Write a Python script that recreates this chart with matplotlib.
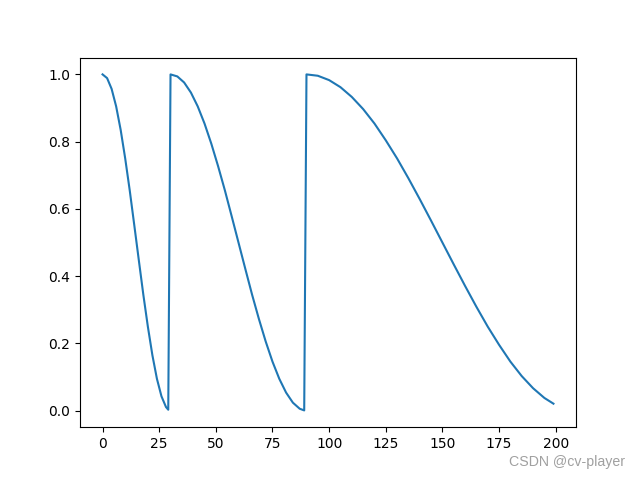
import matplotlib
matplotlib.use("Agg")
import matplotlib.pyplot as plt

# learning-rate factor (three restarts: 0, 30, 90)
epochs_1 = [0, 2, 4, 6, 8, 10, 12, 14, 16, 18, 20, 22, 24, 26, 28, 29]
values_1 = [1.0, 0.989, 0.957, 0.905, 0.835, 0.75, 0.655, 0.552, 0.448, 0.345,
            0.25, 0.165, 0.095, 0.043, 0.011, 0.003]

epochs_2 = [30, 33, 36, 39, 42, 45, 48, 51, 54, 57, 60, 63, 66, 69, 72, 75, 78,
            81, 84, 87, 89]
values_2 = [1.0, 0.994, 0.976, 0.946, 0.905, 0.854, 0.794, 0.727, 0.655, 0.578,
            0.5, 0.422, 0.345, 0.273, 0.206, 0.146, 0.095, 0.054, 0.024, 0.006, 0.001]

epochs_3 = [90, 95, 100, 105, 110, 115, 120, 125, 130, 135, 140, 145, 150, 155,
            160, 165, 170, 175, 180, 185, 190, 195, 199]
values_3 = [1.0, 0.996, 0.983, 0.962, 0.933, 0.897, 0.854, 0.804, 0.75, 0.691,
            0.629, 0.565, 0.5, 0.435, 0.371, 0.309, 0.25, 0.196, 0.146, 0.103,
            0.067, 0.038, 0.021]

x = epochs_1 + epochs_2 + epochs_3
y = values_1 + values_2 + values_3

fig = plt.figure(figsize=(6.4, 4.8), dpi=100)
plt.plot(x, y)
# watermark
fig.text(0.977, 0.022, "CSDN @cv-player", ha="right", va="bottom",
         fontsize=10.2, color="#a0a0a0", family="Liberation Sans")
plt.savefig("out.png", dpi=100)
